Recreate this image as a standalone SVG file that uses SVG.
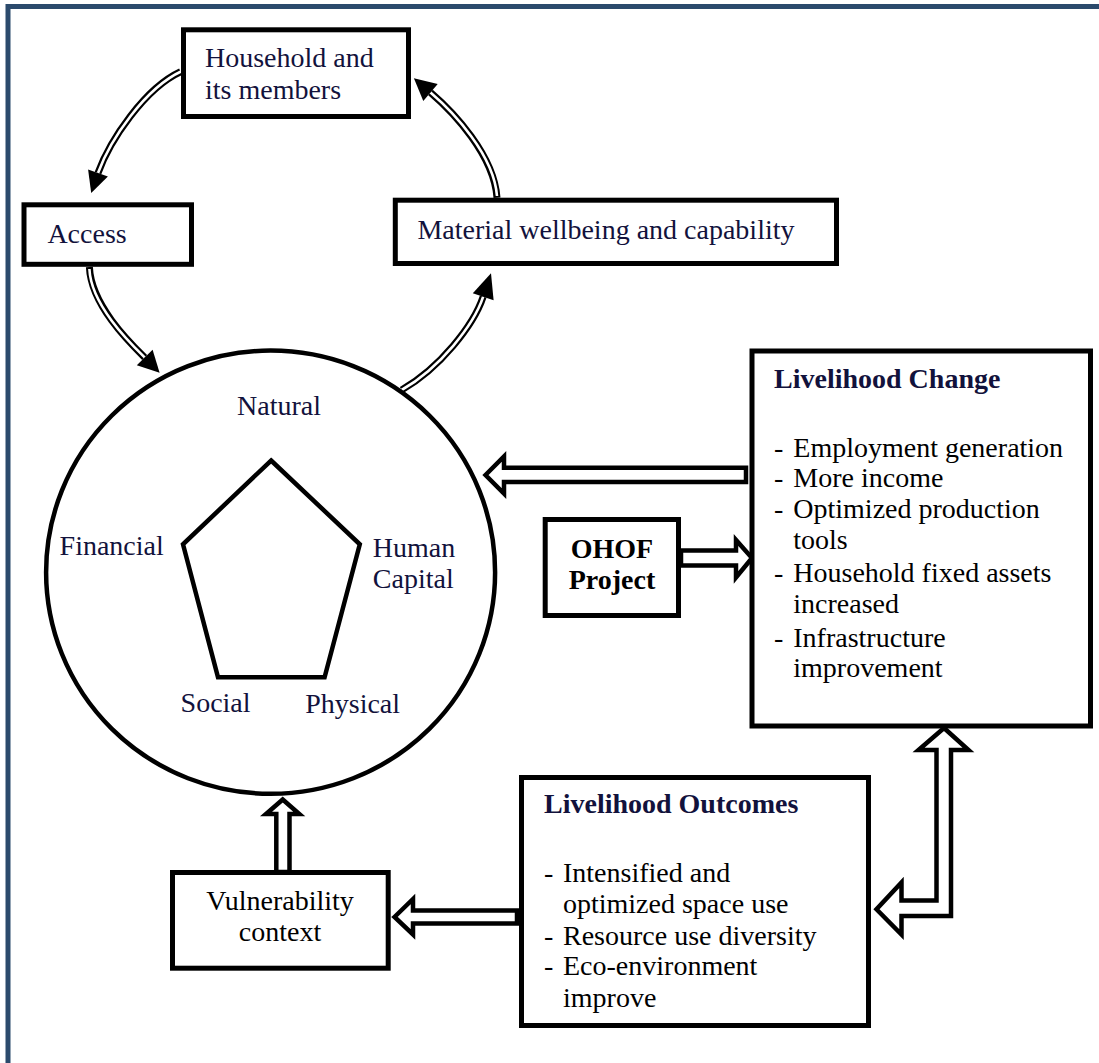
<svg xmlns="http://www.w3.org/2000/svg" width="1099" height="1063" viewBox="0 0 1099 1063">
<style>
.box{fill:#fff;stroke:#000;stroke-width:5}
.t{font-family:"Liberation Serif","Times New Roman",serif;font-size:28px;fill:#12123c}
.k{fill:#000}
.b{font-weight:bold}
.m{text-anchor:middle}
.dl{fill:none;stroke:#000;stroke-width:7}
.dw{fill:none;stroke:#fff;stroke-width:2.6}
.head{fill:#000;stroke:none}
.blk{fill:#fff;stroke:#000;stroke-width:4.5;stroke-linejoin:miter}
</style>
<rect x="8" y="6.5" width="1200" height="1200" fill="#fff" stroke="#2b4a6c" stroke-width="5"/>

<g id="connectors">
  <!-- household -> access -->
  <path class="dl" d="M180.6,71.7 C145,88 110,140 98,173"/>
  <path class="dw" d="M182,71 C145,88 110,140 98,173"/>
  <polygon class="head" points="91.2,193 107.9,176.4 88.1,169.6"/>
  <!-- access -> circle -->
  <path class="dl" d="M89.4,267 C91,305 130,343 144.7,357.5"/>
  <path class="dw" d="M89.4,269 C91,305 130,343 144.7,357.5"/>
  <polygon class="head" points="159.6,372.7 152.6,349.8 136.8,365.2"/>
  <!-- circle -> material -->
  <path class="dl" d="M401.6,390 C440,368 473.7,325.2 483.2,296.7"/>
  <path class="dw" d="M401.6,390 C440,368 473.7,325.2 483.2,296.7"/>
  <polygon class="head" points="491,273.3 493.6,300.2 472.8,293.2"/>
  <!-- material -> household -->
  <path class="dl" d="M497,197.7 C494,155 453.3,112 430.5,92.5"/>
  <path class="dw" d="M497,196 C494,155 453.3,112 430.5,92.5"/>
  <polygon class="head" points="413.9,78.3 437.7,84.1 423.3,100.9"/>
  <!-- livelihood change -> circle -->
  <polygon class="blk" points="485.5,475 504,456.5 504,467.7 746,467.7 746,482 504,482 504,493.5"/>
  <!-- OHOF -> livelihood change -->
  <polygon class="blk" points="681,550.5 736,550.5 736,540 752,558 736,577.5 736,565.5 681,565.5"/>
  <!-- vulnerability -> circle -->
  <polygon class="blk" points="282.7,799.5 299.3,814 289.5,814 289.5,872 276.3,872 276.3,814 266,814"/>
  <!-- outcomes -> vulnerability -->
  <polygon class="blk" points="394.5,917 413,899 413,910.5 517,910.5 517,923.5 413,923.5 413,934.5"/>
  <!-- outcomes <-> livelihood change -->
  <polygon class="blk" points="944,728 968.5,750 951,750 951,916 901.5,916 901.5,934.5 876.5,909.3 901.5,882.5 901.5,900.5 936.5,900.5 936.5,750 918.5,750"/>
</g>

<g id="household">
  <rect class="box" x="183.5" y="29.8" width="225" height="86.7"/>
  <text class="t" x="205" y="67">Household and</text>
  <text class="t" x="205" y="98.5">its members</text>
</g>

<g id="access">
  <rect class="box" x="24" y="204.8" width="167.5" height="59.5"/>
  <text class="t" x="47.4" y="243.3">Access</text>
</g>

<g id="material">
  <rect class="box" x="395.3" y="200.2" width="441.2" height="63.3"/>
  <text class="t" x="417.4" y="239">Material wellbeing and capability</text>
</g>

<g id="capitals">
  <ellipse cx="270.6" cy="572.2" rx="224.5" ry="221.6" fill="#fff" stroke="#000" stroke-width="4.5"/>
  <polygon points="271.1,460.5 359.8,544.3 324.6,677.3 218,677.3 183,544.3" fill="none" stroke="#000" stroke-width="4.5" stroke-linejoin="miter"/>
  <text class="t m" x="279" y="415">Natural</text>
  <text class="t" x="59.6" y="555">Financial</text>
  <text class="t" x="372.8" y="556.7">Human</text>
  <text class="t" x="372.8" y="588.3">Capital</text>
  <text class="t" x="180.6" y="711.7">Social</text>
  <text class="t" x="305.2" y="713.3">Physical</text>
</g>

<g id="livelihood-change">
  <rect class="box" x="752" y="351" width="338.5" height="375"/>
  <text class="t b" x="774" y="388">Livelihood Change</text>
  <text class="t k" x="774" y="456.7">-</text><text class="t k" x="793.3" y="456.7">Employment generation</text>
  <text class="t k" x="774" y="487.3">-</text><text class="t k" x="793.3" y="487.3">More income</text>
  <text class="t k" x="774" y="518.3">-</text><text class="t k" x="793.3" y="518.3">Optimized production</text>
  <text class="t k" x="793.3" y="549.3">tools</text>
  <text class="t k" x="774" y="581.7">-</text><text class="t k" x="793.3" y="581.7">Household fixed assets</text>
  <text class="t k" x="793.3" y="612.7">increased</text>
  <text class="t k" x="774" y="646.7">-</text><text class="t k" x="793.3" y="646.7">Infrastructure</text>
  <text class="t k" x="793.3" y="676.7">improvement</text>
</g>

<g id="ohof">
  <rect class="box" x="545.2" y="519.5" width="133.3" height="96"/>
  <text class="t k b m" x="612" y="558">OHOF</text>
  <text class="t k b m" x="612" y="589">Project</text>
</g>

<g id="vulnerability">
  <rect class="box" x="172.5" y="872.5" width="215.7" height="95.7"/>
  <text class="t k m" x="280" y="910">Vulnerability</text>
  <text class="t k m" x="280" y="940.7">context</text>
</g>

<g id="livelihood-outcomes">
  <rect class="box" x="521.5" y="777.5" width="347" height="248"/>
  <text class="t b" x="544" y="813.3">Livelihood Outcomes</text>
  <text class="t k" x="544" y="881.7">-</text><text class="t k" x="563" y="881.7">Intensified and</text>
  <text class="t k" x="563" y="913.3">optimized space use</text>
  <text class="t k" x="544" y="945">-</text><text class="t k" x="563" y="945">Resource use diversity</text>
  <text class="t k" x="544" y="975">-</text><text class="t k" x="563" y="975">Eco-environment</text>
  <text class="t k" x="563" y="1006.7">improve</text>
</g>
</svg>
